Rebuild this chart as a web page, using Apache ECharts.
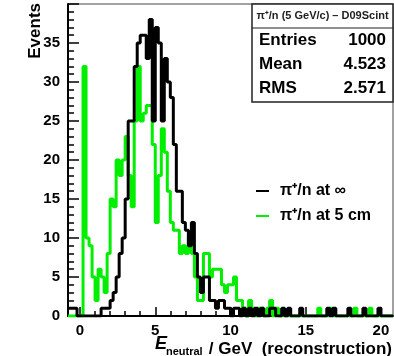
<!DOCTYPE html>
<html>
<head>
<meta charset="utf-8">
<script src="https://cdn.jsdelivr.net/npm/echarts@6/dist/echarts.min.js"></script>
<style>
    html, body { margin: 0; padding: 0; background: #fff; }
    #chart { width: 394px; height: 356px; }
</style>
</head>
<body>
<div id="chart"></div>
<script>
    // histogram binning: 108 bins of 0.2 GeV starting at -0.8
    var binStart = -0.8;
    var binWidth = 0.2;

    // pi+/n at infinity (black)
    var countsInf = [
        1, 1, 1, 0, 0, 0, 0, 0, 0, 0,
        0, 1, 1, 1, 2, 3, 5, 8, 10, 15,
        25, 25, 32, 35, 36, 36, 33, 38, 25, 37,
        35, 25, 33, 30, 28, 22, 16, 16, 12, 11,
        9, 12, 8, 5, 3, 5, 5, 2, 2, 1,
        2, 2, 1, 1, 0, 1, 1, 0, 1, 0,
        1, 0, 1, 0, 1, 0, 0, 1, 1, 0,
        0, 1, 0, 1, 0, 0, 0, 1, 0, 0,
        0, 0, 0, 0, 0, 0, 1, 0, 1, 0,
        0, 0, 0, 1, 0, 0, 0, 0, 1, 0,
        0, 0, 0, 1, 0, 0, 0, 0
    ];

    // pi+/n at 5 cm (green)
    var counts5cm = [
        0, 0, 0, 0, 0, 32, 10, 9, 5, 2,
        6, 5, 3, 8, 15, 14, 20, 18, 20, 23,
        18, 14, 25, 32, 25, 26, 27, 27, 22, 12,
        18, 24, 21, 16, 12, 11, 11, 8, 9, 8,
        10, 8, 5, 2, 2, 8, 8, 5, 6, 6,
        6, 4, 3, 4, 4, 5, 2, 2, 1, 0,
        2, 1, 0, 1, 1, 0, 1, 2, 0, 1,
        0, 0, 0, 0, 0, 0, 0, 0, 0, 0,
        0, 0, 0, 1, 0, 0, 0, 1, 0, 0,
        0, 0, 0, 0, 0, 1, 0, 0, 0, 0,
        1, 0, 0, 0, 0, 0, 0, 0
    ];

    var seriesNames = ['π⁺/n at ∞', 'π⁺/n at 5 cm'];
    var xMajorTicks = [0, 5, 10, 15, 20];
    var xMinorTicks = [0, 1, 2, 3, 4, 5, 6, 7, 8, 9, 10, 11, 12, 13, 14, 15, 16, 17, 18, 19, 20];

    var statsTitle = 'π⁺/n (5 GeV/c) – D09Scint';
    var statsNames = ['Entries', 'Mean', 'RMS'];
    var statsValues = ['1000', '4.523', '2.571'];

    var FONT = 'Liberation Sans';

    function histPoints(counts) {
        var pts = [];
        for (var i = 0; i < counts.length; i++) {
            var lo = binStart + i * binWidth;
            pts.push([+lo.toFixed(2), counts[i]]);
            pts.push([+(lo + binWidth).toFixed(2), counts[i]]);
        }
        return pts;
    }

    var xMin = binStart;
    var xMax = +(binStart + countsInf.length * binWidth).toFixed(2);

    var chart = echarts.init(document.getElementById('chart'), null, {renderer: 'canvas'});

    // stats box
    var statsGraphics = [
        {type: 'rect', shape: {x: 252, y: 4, width: 141, height: 98},
            style: {fill: '#fff', stroke: '#222', lineWidth: 1.5}, z: 100},
        {type: 'line', shape: {x1: 252, y1: 28, x2: 393, y2: 28},
            style: {stroke: '#222', lineWidth: 1.2}, z: 101},
        {type: 'text', x: 322.5, y: 16, z: 101,
            style: {text: statsTitle, align: 'center', verticalAlign: 'middle',
                font: 'bold 11px ' + FONT, fill: '#222'}}
    ];
    var rowY = [40, 64, 88];
    for (var r = 0; r < statsNames.length; r++) {
        statsGraphics.push({type: 'text', x: 259, y: rowY[r], z: 101,
            style: {text: statsNames[r], align: 'left', verticalAlign: 'middle',
                font: 'bold 17px ' + FONT, fill: '#000'}});
        statsGraphics.push({type: 'text', x: 386, y: rowY[r], z: 101,
            style: {text: statsValues[r], align: 'right', verticalAlign: 'middle',
                font: 'bold 17px ' + FONT, fill: '#000'}});
    }

    var titleGraphics = [
        {type: 'text', x: 35, y: 3, rotation: Math.PI / 2,
            style: {text: 'Events', align: 'right', verticalAlign: 'middle',
                font: 'bold 17px ' + FONT, fill: '#000'}},
        {type: 'text', x: 155, y: 344,
            style: {text: 'E', align: 'left', verticalAlign: 'middle',
                font: 'italic bold 18px ' + FONT, fill: '#000'}},
        {type: 'text', x: 166, y: 352,
            style: {text: 'neutral', align: 'left', verticalAlign: 'middle',
                font: 'bold 11px ' + FONT, fill: '#000'}},
        {type: 'text', x: 392, y: 349,
            style: {text: '/ GeV  (reconstruction)', align: 'right', verticalAlign: 'middle',
                font: 'bold 17px ' + FONT, fill: '#000'}}
    ];

    var option = {
        animation: false,
        backgroundColor: '#fff',
        grid: {
            left: 68, right: 1, top: 4, bottom: 40,
            show: true, borderColor: '#444', borderWidth: 1
        },
        legend: {
            orient: 'vertical',
            left: 251,
            top: 178,
            itemWidth: 13,
            itemHeight: 2,
            itemGap: 9,
            icon: 'rect',
            data: [seriesNames[0], seriesNames[1]],
            textStyle: {fontFamily: FONT, fontSize: 16, fontWeight: 'bold', color: '#000',
                padding: [0, 0, 0, 6]}
        },
        xAxis: [{
            type: 'value',
            min: xMin,
            max: xMax,
            axisLine: {show: true, onZero: false, lineStyle: {color: '#000', width: 2}},
            axisTick: {show: true, inside: true, length: 9, customValues: xMajorTicks,
                lineStyle: {color: '#000', width: 1.5}},
            axisLabel: {customValues: xMajorTicks, margin: 7, fontFamily: FONT,
                fontSize: 15, fontWeight: 'bold', color: '#000'},
            splitLine: {show: false}
        }, {
            type: 'value',
            position: 'bottom',
            min: xMin,
            max: xMax,
            axisLine: {show: false, onZero: false},
            axisTick: {show: true, inside: true, length: 5, customValues: xMinorTicks,
                lineStyle: {color: '#000', width: 1.5}},
            axisLabel: {show: false},
            splitLine: {show: false}
        }],
        yAxis: {
            type: 'value',
            position: 'left',
            min: 0,
            max: 40,
            interval: 5,
            axisLine: {show: true, onZero: false, lineStyle: {color: '#000', width: 2}},
            axisTick: {show: true, inside: true, length: 11, lineStyle: {color: '#000', width: 1.5}},
            minorTick: {show: true, splitNumber: 5, length: 6, lineStyle: {color: '#000', width: 1.5}},
            axisLabel: {margin: 8, showMaxLabel: false, fontFamily: FONT, fontSize: 15,
                fontWeight: 'bold', color: '#000'},
            splitLine: {show: false}
        },
        series: [{
            name: seriesNames[1],
            type: 'line',
            data: histPoints(counts5cm),
            showSymbol: false,
            symbol: 'none',
            color: '#00ee00',
            lineStyle: {color: '#00ee00', width: 3},
            z: 2
        }, {
            name: seriesNames[0],
            type: 'line',
            data: histPoints(countsInf),
            showSymbol: false,
            symbol: 'none',
            color: '#000',
            lineStyle: {color: '#000', width: 3},
            z: 3
        }],
        graphic: titleGraphics.concat(statsGraphics)
    };

    chart.setOption(option);
</script>
</body>
</html>
